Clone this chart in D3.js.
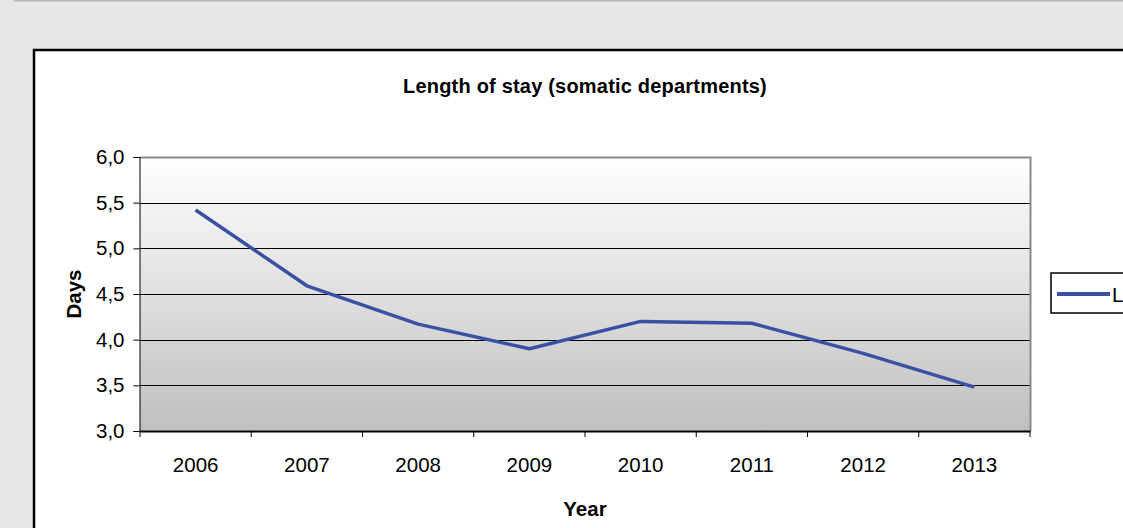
<!DOCTYPE html>
<html>
<head>
<meta charset="utf-8">
<script src="https://cdn.jsdelivr.net/npm/d3@7"></script>
<style>
  body { margin: 0; background: #e6e7e9; overflow: hidden; }
  svg { display: block; font-family: "Liberation Sans", Arial, sans-serif; }
</style>
</head>
<body>
<div id="chart"></div>
<script>
// data
var years = ["2006", "2007", "2008", "2009", "2010", "2011", "2012", "2013"];
var days = [5.42, 4.59, 4.17, 3.90, 4.20, 4.18, 3.85, 3.48];
var yTicks = [3.0, 3.5, 4.0, 4.5, 5.0, 5.5, 6.0];
var seriesName = "Length of stay";

var width = 1123, height = 528;
var plot = { left: 140, top: 157, right: 1030, bottom: 431 };

var svg = d3.select("#chart").append("svg")
    .attr("width", width)
    .attr("height", height);

// page background + top rule
svg.append("rect").attr("width", width).attr("height", height).attr("fill", "#e6e7e9");
svg.append("line")
    .attr("x1", 14).attr("x2", width).attr("y1", 0.5).attr("y2", 0.5)
    .attr("stroke", "#b5b6b8").attr("stroke-width", 2);

// chart box
svg.append("rect")
    .attr("x", 34).attr("y", 50)
    .attr("width", width).attr("height", height)
    .attr("fill", "#fff").attr("stroke", "#000").attr("stroke-width", 2.5);

var defs = svg.append("defs");
var grad = defs.append("linearGradient")
    .attr("id", "bg").attr("x1", 0).attr("y1", 0).attr("x2", 0).attr("y2", 1);
grad.append("stop").attr("offset", "0%").attr("stop-color", "#ffffff");
grad.append("stop").attr("offset", "100%").attr("stop-color", "#bfbfbf");

var x = d3.scaleBand().domain(years).range([plot.left, plot.right]);
var y = d3.scaleLinear().domain([3, 6]).range([plot.bottom, plot.top]);

svg.append("rect")
    .attr("x", plot.left).attr("y", plot.top)
    .attr("width", plot.right - plot.left).attr("height", plot.bottom - plot.top)
    .attr("fill", "url(#bg)");

// gridlines
svg.append("g")
    .selectAll("line")
    .data(yTicks.filter(function (d) { return d > 3 && d < 6; }))
    .enter().append("line")
    .attr("x1", plot.left).attr("x2", plot.right)
    .attr("y1", function (d) { return Math.round(y(d)) + 0.5; })
    .attr("y2", function (d) { return Math.round(y(d)) + 0.5; })
    .attr("stroke", "#000").attr("stroke-width", 1);

// top and right border (gray)
svg.append("path")
    .attr("d", "M" + plot.left + "," + (plot.top + 0.5) + "H" + (plot.right + 0.5) + "V" + plot.bottom)
    .attr("fill", "none").attr("stroke", "#8a8a8a").attr("stroke-width", 2);

var fmt = function (d) { return d3.format(".1f")(d).replace(".", ","); };

var yAxis = svg.append("g")
    .attr("transform", "translate(" + (plot.left - 0.5) + ",0)")
    .call(d3.axisLeft(y).tickValues(yTicks).tickFormat(fmt).tickSize(6).tickPadding(9));
yAxis.select(".domain").attr("stroke", "#000");
yAxis.selectAll(".tick line").attr("stroke", "#000");
yAxis.selectAll("text").attr("font-size", 20.5).attr("fill", "#000")
    .attr("font-family", "Liberation Sans, Arial, sans-serif");

var xAxis = svg.append("g")
    .attr("transform", "translate(0," + plot.bottom + ")")
    .call(d3.axisBottom(x).tickSize(0).tickPadding(26));
xAxis.select(".domain").attr("stroke", "#000").attr("stroke-width", 2);
xAxis.selectAll("text").attr("font-size", 20.5).attr("fill", "#000")
    .attr("font-family", "Liberation Sans, Arial, sans-serif");

// category boundary ticks
svg.append("g")
    .selectAll("line")
    .data(years.concat(["end"]))
    .enter().append("line")
    .attr("x1", function (d, i) { return plot.left + i * x.bandwidth(); })
    .attr("x2", function (d, i) { return plot.left + i * x.bandwidth(); })
    .attr("y1", plot.bottom).attr("y2", plot.bottom + 6)
    .attr("stroke", "#000");

// series line
var line = d3.line()
    .x(function (d, i) { return x(years[i]) + x.bandwidth() / 2; })
    .y(function (d) { return y(d); });

svg.append("path")
    .datum(days)
    .attr("d", line)
    .attr("fill", "none")
    .attr("stroke", "#3a51a3")
    .attr("stroke-width", 3.5)
    .attr("stroke-linejoin", "round");

// title and axis titles
svg.append("text")
    .attr("x", (plot.left + plot.right) / 2).attr("y", 93)
    .attr("text-anchor", "middle")
    .attr("font-size", 20).attr("font-weight", "bold")
    .attr("letter-spacing", 0.2)
    .text("Length of stay (somatic departments)");

svg.append("text")
    .attr("transform", "translate(81," + ((plot.top + plot.bottom) / 2) + ") rotate(-90)")
    .attr("text-anchor", "middle")
    .attr("font-size", 20.5).attr("font-weight", "bold")
    .text("Days");

svg.append("text")
    .attr("x", (plot.left + plot.right) / 2).attr("y", 516)
    .attr("text-anchor", "middle")
    .attr("font-size", 20.5).attr("font-weight", "bold")
    .text("Year");

// legend (runs off the right edge as in the picture)
var legend = svg.append("g").attr("transform", "translate(1051,273)");
legend.append("rect")
    .attr("width", 200).attr("height", 40)
    .attr("fill", "#fff").attr("stroke", "#000").attr("stroke-width", 1.5);
legend.append("line")
    .attr("x1", 6).attr("x2", 59).attr("y1", 21).attr("y2", 21)
    .attr("stroke", "#3a51a3").attr("stroke-width", 4);
legend.append("text")
    .attr("x", 61).attr("y", 29)
    .attr("font-size", 20.5)
    .text(seriesName);
</script>
</body>
</html>
